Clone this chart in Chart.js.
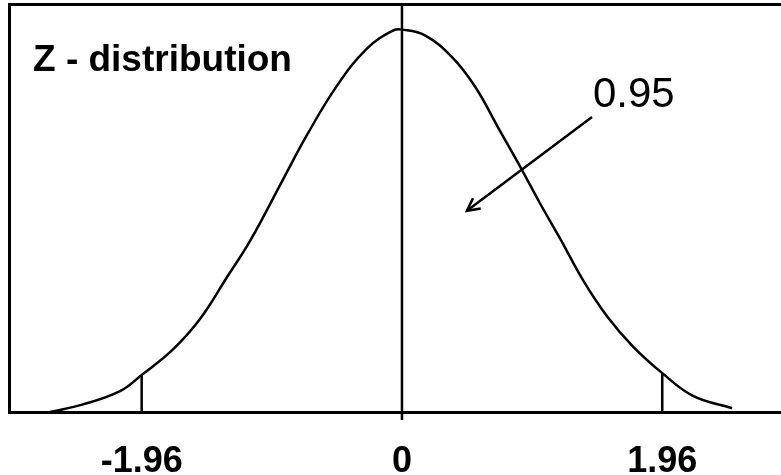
<!DOCTYPE html>
<html><head><meta charset="utf-8">
<script src="https://cdn.jsdelivr.net/npm/chart.js@4"></script>
<style>html,body{margin:0;padding:0;background:#fff;overflow:hidden}</style>
</head><body>
<canvas id="c" width="781" height="475"></canvas>
<script>
// ---- data ----
const curveZ       = [-2.651, -2.402, -2.123, -1.96, -1.724, -1.521, -1.318, -1.145, -0.896, -0.715, -0.489, -0.264, -0.068, 0, 0.173, 0.377, 0.550, 0.723, 0.904, 1.039, 1.190, 1.363, 1.544, 1.740, 1.96, 2.191, 2.485];
const curveDensity = [0.000, 0.008, 0.022, 0.039, 0.066, 0.098, 0.142, 0.180, 0.245, 0.292, 0.344, 0.383, 0.402, 0.403, 0.397, 0.374, 0.343, 0.300, 0.255, 0.220, 0.183, 0.139, 0.101, 0.069, 0.041, 0.017, 0.004];
const tickValues   = [-1.96, 0, 1.96];
const tickLabels   = ['-1.96', '0', '1.96'];
const criticalZ    = [-1.96, 1.96];
const criticalDensity = [0.039, 0.041];
const centerLineRange = [-0.0085, 0.43];
const titleText    = 'Z - distribution';
const areaLabel    = '0.95';
const areaLabelAt  = {x: 1.438, y: 0.321};
const arrowFrom    = {x: 1.431, y: 0.311};
const arrowTo      = {x: 0.489, y: 0.212};

const X_MIN = -2.959, X_MAX = 2.854, Y_MAX = 0.43;
const FONT = '"Liberation Sans", Arial, Helvetica, sans-serif';

const datasets = [
  {
    data: curveZ.map((z, i) => ({x: z, y: curveDensity[i]})),
    borderColor: '#000', borderWidth: 2.5, pointRadius: 0,
    tension: 0.4, fill: false
  },
  {
    data: [{x: 0, y: centerLineRange[0]}, {x: 0, y: centerLineRange[1]}],
    borderColor: '#000', borderWidth: 2.5, pointRadius: 0, clip: false
  }
];
criticalZ.forEach((z, i) => {
  datasets.push({
    data: [{x: z, y: 0}, {x: z, y: criticalDensity[i]}],
    borderColor: '#000', borderWidth: 2.5, pointRadius: 0
  });
});

const annot = {
  id: 'annot',
  afterDatasetsDraw(chart) {
    const {ctx, scales: {x, y}, chartArea} = chart;
    ctx.save();
    ctx.fillStyle = '#000';
    ctx.textBaseline = 'alphabetic';
    ctx.textAlign = 'left';
    ctx.font = 'bold 37px ' + FONT;
    ctx.fillText(titleText, chartArea.left + 24, chartArea.top + 67);
    ctx.font = '42px ' + FONT;
    ctx.fillText(areaLabel, x.getPixelForValue(areaLabelAt.x), y.getPixelForValue(areaLabelAt.y));
    const x1 = x.getPixelForValue(arrowFrom.x), y1 = y.getPixelForValue(arrowFrom.y);
    const x2 = x.getPixelForValue(arrowTo.x), y2 = y.getPixelForValue(arrowTo.y);
    ctx.strokeStyle = '#000';
    ctx.lineWidth = 2.5;
    ctx.beginPath(); ctx.moveTo(x1, y1); ctx.lineTo(x2, y2); ctx.stroke();
    const ang = Math.atan2(y2 - y1, x2 - x1), L = 14, a = 0.48;
    ctx.beginPath();
    ctx.moveTo(x2 - L * Math.cos(ang - a), y2 - L * Math.sin(ang - a));
    ctx.lineTo(x2, y2);
    ctx.lineTo(x2 - L * Math.cos(ang + a), y2 - L * Math.sin(ang + a));
    ctx.stroke();
    ctx.restore();
  }
};

new Chart(document.getElementById('c'), {
  type: 'line',
  data: {datasets},
  options: {
    responsive: false,
    animation: false,
    devicePixelRatio: 1,
    layout: {padding: {left: 9, top: 4, right: 0, bottom: 0}},
    plugins: {legend: {display: false}, tooltip: {enabled: false}},
    scales: {
      x: {
        type: 'linear', position: 'bottom', min: X_MIN, max: X_MAX,
        grid: {display: false},
        border: {display: true, color: '#000', width: 3},
        afterBuildTicks: s => { s.ticks = tickValues.map(v => ({value: v})); },
        afterFit: s => { s.height = 63; },
        ticks: {
          autoSkip: false, maxRotation: 0, color: '#000', padding: 20,
          font: {family: FONT, size: 36, weight: 'bold'},
          callback: v => tickLabels[tickValues.indexOf(v)]
        }
      },
      xTop: {
        type: 'linear', position: 'top', min: X_MIN, max: X_MAX,
        grid: {display: false},
        border: {display: true, color: '#000', width: 3},
        ticks: {display: false},
        afterFit: s => { s.height = 0; }
      },
      y: {
        type: 'linear', min: 0, max: Y_MAX,
        grid: {display: false},
        border: {display: true, color: '#000', width: 3},
        ticks: {display: false},
        afterFit: s => { s.width = 0; }
      }
    }
  },
  plugins: [annot]
});
</script>
</body></html>
